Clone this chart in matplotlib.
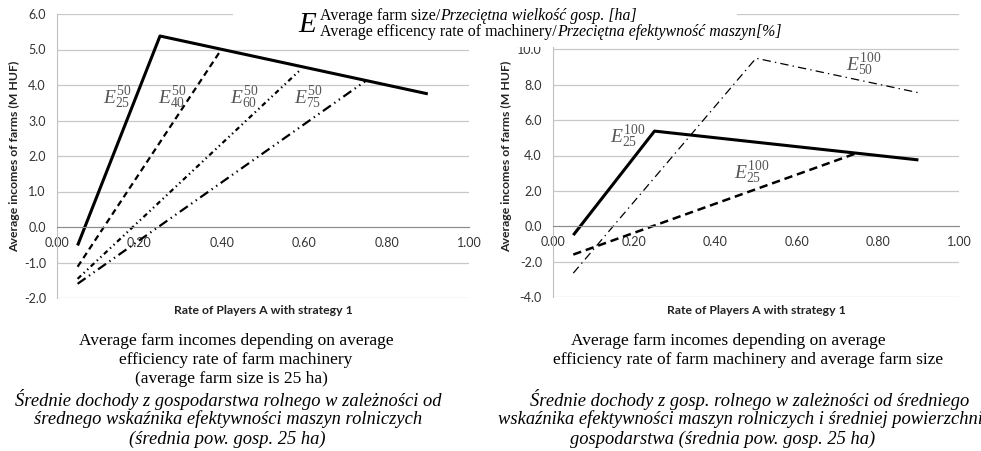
import matplotlib
matplotlib.use('Agg')
import numpy as np
import matplotlib.pyplot as plt
from matplotlib.patches import Rectangle

plt.rcParams['font.family'] = ['Lato', 'DejaVu Sans']
plt.rcParams['mathtext.fontset'] = 'custom'
plt.rcParams['mathtext.it'] = 'Liberation Serif:italic'
plt.rcParams['mathtext.rm'] = 'Liberation Serif'
plt.rcParams['lines.scale_dashes'] = False

# left chart: average farm size 50 ha, efficiency 25/40/60/75 %
rate_e25_50 = [0.05, 0.25, 0.90]
inc_e25_50 = [-0.52, 5.38, 3.75]
rate_e40_50 = [0.05, 0.40]
inc_e40_50 = [-1.12, 5.02]
rate_e60_50 = [0.05, 0.59]
inc_e60_50 = [-1.46, 4.42]
rate_e75_50 = [0.05, 0.75]
inc_e75_50 = [-1.60, 4.12]

# right chart: farm size 100 ha
rate_e25_100 = [0.05, 0.25, 0.90]
inc_e25_100 = [-0.50, 5.38, 3.75]
rate_e25_100b = [0.05, 0.75]
inc_e25_100b = [-1.60, 4.15]
rate_e50_100 = [0.05, 0.50, 0.90]
inc_e50_100 = [-2.65, 9.50, 7.55]

xlabel = 'Rate of Players A with strategy 1'
ylabel = 'Average incomes of farms (M HUF)'

caption_left = [
    ('Average farm incomes depending on average', 'normal', 236, 341),
    ('efficiency rate of farm machinery', 'normal', 236, 360),
    ('(average farm size is 25 ha)', 'normal', 231, 379),
    ('Średnie dochody z gospodarstwa rolnego w zależności od', 'italic', 228, 399),
    ('średnego wskaźnika efektywności maszyn rolniczych', 'italic', 228, 419),
    ('(średnia pow. gosp. 25 ha)', 'italic', 227, 439),
]
caption_right = [
    ('Average farm incomes depending on average', 'normal', 728, 341),
    ('efficiency rate of farm machinery and average farm size', 'normal', 748, 360),
    ('Średnie dochody z gosp. rolnego w zależności od średniego', 'italic', 750, 399),
    ('wskaźnika efektywności maszyn rolniczych i średniej powierzchni', 'italic', None, 419),
    ('gospodarstwa (średnia pow. gosp. 25 ha)', 'italic', 723, 439),
]

W, H = 981, 451
fig = plt.figure(figsize=(W / 100, H / 100), dpi=100)


def fx(x):
    return x / W


def fy(y):
    return 1 - y / H


def px_rect(l, t, r, b):
    return [l / W, 1 - b / H, (r - l) / W, (b - t) / H]


def style_axes(ax, ymin, ymax, step, hide_top=False):
    ax.set_xlim(0, 1)
    ax.set_ylim(ymin, ymax)
    ax.set_xticks(np.arange(0, 1.01, 0.2))
    ax.set_yticks(np.arange(ymin, ymax + 0.01, step))
    ax.xaxis.set_major_formatter('{x:.2f}')
    # top label sits under the key box in the reference
    ax.yaxis.set_major_formatter(
        lambda v, pos: '' if hide_top and v >= ymax else f'{v:.1f}')
    ax.grid(axis='y', color='#c8c8c8', lw=0.9)
    ax.set_axisbelow(True)
    for s in ['top', 'right']:
        ax.spines[s].set_visible(False)
    ax.spines['left'].set_color('#c0c0c0')
    ax.spines['bottom'].set_position(('data', 0))
    ax.spines['bottom'].set_color('#8c8c8c')
    ax.tick_params(length=0, labelsize=9, colors='#333333')
    ax.tick_params(axis='x', pad=7)
    ax.tick_params(axis='y', pad=8)


ax1 = fig.add_axes(px_rect(57, 14, 469, 298))
style_axes(ax1, -2, 6, 1.0)
ax1.plot(rate_e25_50, inc_e25_50, color='black', lw=2.2, solid_capstyle='butt')
ax1.plot(rate_e40_50, inc_e40_50, color='black', lw=1.6, ls=(0, (4.5, 3)))
ax1.plot(rate_e60_50, inc_e60_50, color='black', lw=1.6, ls=(0, (3.5, 2.5, 1, 2.5, 1, 2.5)))
ax1.plot(rate_e75_50, inc_e75_50, color='black', lw=1.6, ls=(0, (7, 3, 1, 3, 1, 3)))

ax2 = fig.add_axes(px_rect(553, 14, 959, 297))
style_axes(ax2, -4, 12, 2.0, hide_top=True)
ax2.plot(rate_e25_100, inc_e25_100, color='black', lw=2.2, solid_capstyle='butt')
ax2.plot(rate_e25_100b, inc_e25_100b, color='black', lw=1.8, ls=(0, (6, 3.5)))
ax2.plot(rate_e50_100, inc_e50_100, color='black', lw=0.9, ls=(0, (6, 3, 1, 3)))

for x in [15, 507]:
    fig.text(fx(x), fy(156), ylabel, rotation=90, ha='center', va='center',
             weight='bold', size=8.8, color='#222222')
for x in [263, 756]:
    fig.text(fx(x), fy(310), xlabel, ha='center', va='center',
             weight='bold', size=8.8, color='#222222')


# series labels
def e_label(x, y, sub, sup):
    fig.text(fx(x), fy(y), r'$\mathit{E}_{\mathit{%s}}^{\mathit{%s}}$' % (sub, sup),
             ha='center', va='center', size=14, color='#555555')


e_label(117, 98, '25', '50')
e_label(172, 98, '40', '50')
e_label(244, 98, '60', '50')
e_label(308, 98, '75', '50')
e_label(864, 65, '50', '100')
e_label(628, 137, '25', '100')
e_label(752, 173, '25', '100')

# header key, on a white box over the tops of both charts
fig.patches.append(Rectangle((fx(233), fy(47)), fx(737) - fx(233), 47 / H,
                             transform=fig.transFigure, facecolor='white',
                             edgecolor='none', zorder=3))
serif = 'Liberation Serif'
fig.text(fx(298), fy(32), 'E', family=serif, style='italic', size=21,
         va='baseline', zorder=4)
fig.canvas.draw()
renderer = fig.canvas.get_renderer()
for y, plain, ital in [(20, 'Average farm size/', 'Przeciętna wielkość gosp. [ha]'),
                       (36, 'Average efficency rate of machinery/',
                        'Przeciętna efektywność maszyn[%]')]:
    t = fig.text(fx(320), fy(y), plain, family=serif, size=11.4, va='baseline', zorder=4)
    x_end = t.get_window_extent(renderer).x1
    fig.text(x_end / W, fy(y), ital, family=serif, style='italic', size=11.4,
             va='baseline', zorder=4)

for text, st, x, y in caption_left + caption_right:
    size = 13.3 if st == 'italic' else 12.5
    if x is None:
        fig.text(fx(498), fy(y), text, family=serif, style=st, size=size,
                 ha='left', va='center')
    else:
        fig.text(fx(x), fy(y), text, family=serif, style=st, size=size,
                 ha='center', va='center')

fig.savefig('out.png', dpi=100)
